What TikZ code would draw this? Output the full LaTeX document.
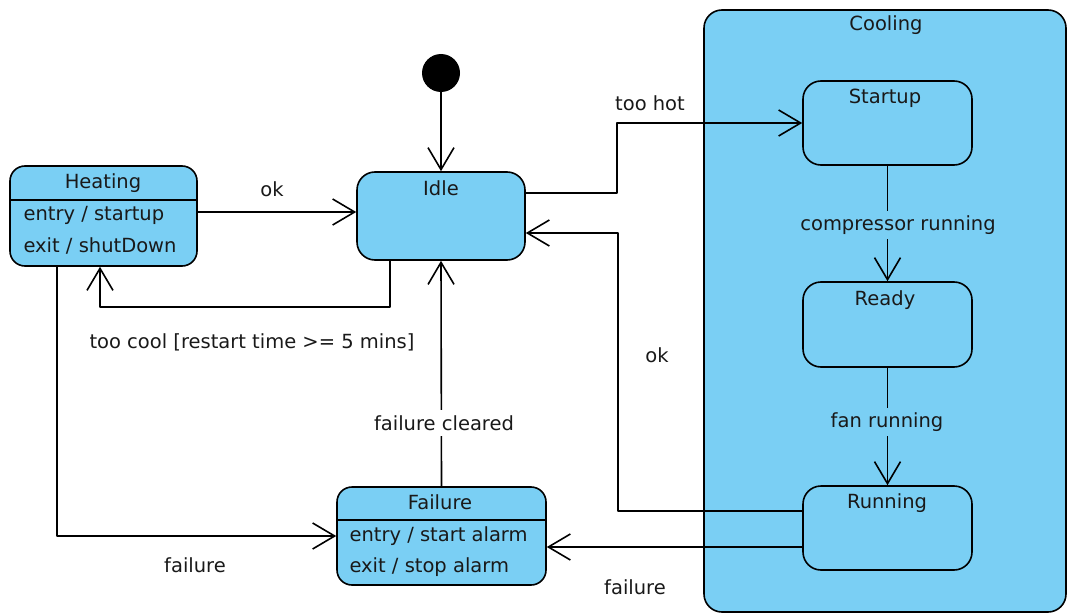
\documentclass[tikz,border=0pt]{standalone}
\usepackage{fontspec}
\setmainfont{DejaVu Sans}
\usetikzlibrary{arrows.meta}
\definecolor{stateblue}{RGB}{122,207,244}
\tikzset{
  state/.style={draw, fill=stateblue, rounded corners=18pt, line width=1.6pt, inner sep=0pt},
  trans/.style={line width=1.6pt, -{Straight Barb[length=22pt, width=26pt]}},
  lbl/.style={inner xsep=2pt, inner ysep=5pt},
}
\begin{document}
\begin{tikzpicture}[x=1pt, y=-1pt, line join=round,
    every node/.style={text=black!90, font=\fontsize{19.5}{23}\selectfont}]
    \useasboundingbox (0, 0) rectangle (1068, 615);
    % composite state
    \node (cooling) at (885, 311) [state, minimum width=362, minimum height=602] {};
    \node (coolingtitle) at (886, 25) {Cooling};

    % states
    \node (init) at (441, 73) [circle, fill=black, minimum size=38, inner sep=0pt] {};
    \node (idle) at (441, 216) [state, minimum width=168, minimum height=88] {};
    \node (heat) at (103.5, 216) [state, rounded corners=15pt, minimum width=187, minimum height=100] {};
    \node (failure) at (441.5, 536) [state, rounded corners=15pt, minimum width=209, minimum height=98] {};
    \node (startup) at (887.5, 123) [state, minimum width=169, minimum height=84] {};
    \node (ready) at (887.5, 324.5) [state, minimum width=169, minimum height=85] {};
    \node (running) at (887.5, 528) [state, minimum width=169, minimum height=84] {};

    \draw[line width=1.6pt] ([yshift=16pt]heat.west) to ([yshift=16pt]heat.east);
    \draw[line width=1.6pt] ([yshift=16pt]failure.west) to ([yshift=16pt]failure.east);

    \node (idletitle) at (441, 188) {Idle};
    \node (heattitle) at (103, 183) {Heating};
    \node (heatentry) at (20, 215) [anchor=west] {entry / startup};
    \node (heatexit) at (20, 246) [anchor=west] {exit / shutDown};
    \node (failtitle) at (440, 502) {Failure};
    \node (failentry) at (346, 536) [anchor=west] {entry / start alarm};
    \node (failexit) at (346, 567) [anchor=west] {exit / stop alarm};
    \node (startuptitle) at (885, 98) {Startup};
    \node (readytitle) at (885, 300) {Ready};
    \node (runningtitle) at (887, 503) {Running};

    % transitions
    \coordinate (hotbend) at (617, 123);
    \coordinate (okbend) at (618, 511);

    \draw[trans] (init.south) to (idle.north);
    \draw[trans] ([yshift=4pt]heat.east) to ([yshift=4pt]idle.west);
    \draw[trans] ([xshift=-51pt]idle.south) -- ++(0, 46) -| ([xshift=-3.5pt]heat.south);
    \draw[trans] ([yshift=23pt]idle.east) -| (hotbend) -- (startup.west);
    \draw[trans] (startup.south) to (ready.north);
    \draw[trans] (ready.south) to (running.north);
    \draw[trans] ([yshift=17pt]running.west) -- (okbend) |- ([yshift=-17pt]idle.east);
    \draw[trans] ([yshift=-19pt]running.west) to ([yshift=-11pt]failure.east);
    \draw[trans] ([xshift=-46.5pt]heat.south) |- (failure.west);
    \draw[trans] (failure.north) to (idle.south);

    % transition labels
    \node (lblok) at (272, 189) [lbl] {ok};
    \node (lblcool) at (252, 342) [lbl] {too cool [restart time >= 5 mins]};
    \node (lblhot) at (650, 103) [lbl] {too hot};
    \node (lblcomp) at (898, 225) [lbl, fill=stateblue] {compressor running};
    \node (lblfan) at (887, 422) [lbl, fill=stateblue] {fan running};
    \node (lblok2) at (657, 355) [lbl] {ok};
    \node (lblclear) at (444, 423) [lbl, fill=white] {failure cleared};
    \node (lblfail) at (195, 565) [lbl] {failure};
    \node (lblfail2) at (635, 587) [lbl] {failure};
\end{tikzpicture}
\end{document}
